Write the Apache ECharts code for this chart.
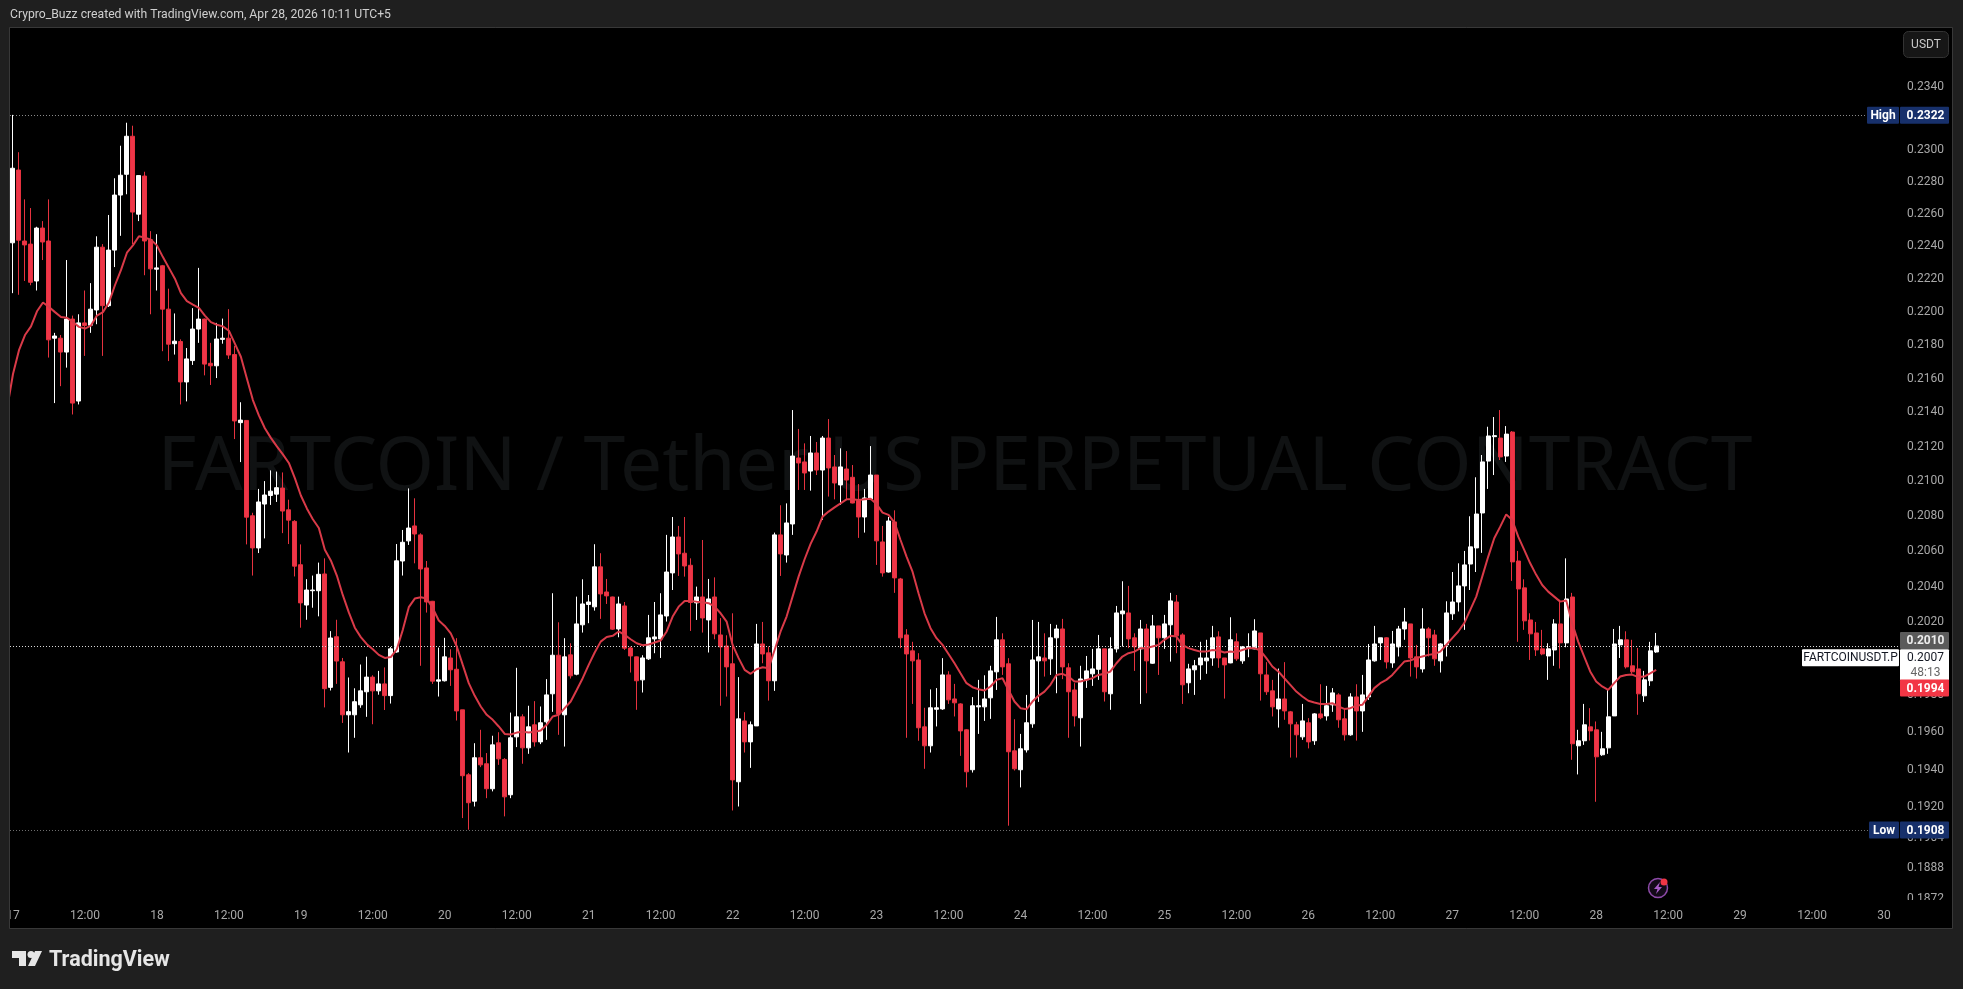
<!DOCTYPE html>
<html>
<head>
<meta charset="utf-8">
<style>
    html, body { margin: 0; height: 100%; background: #1f1f1f; overflow: hidden; }
    #chart { width: 1963px; height: 989px; }
</style>
<script src="https://cdn.jsdelivr.net/npm/echarts@6/dist/echarts.min.js"></script>
</head>
<body>
<div id="chart"></div>
<script>
const opens = [0.22421,0.22874,0.22432,0.22413,0.22187,0.22512,0.22432,0.21841,0.21841,0.21758,0.21956,0.21467,0.21933,0.21919,0.22011,0.22394,0.22037,0.22376,0.22717,0.22847,0.23087,0.22598,0.22836,0.2244,0.22259,0.2228,0.22016,0.21808,0.21821,0.2158,0.21707,0.21896,
    0.21956,0.21691,0.21676,0.21834,0.21841,0.21743,0.2134,0.21353,0.20801,0.20618,0.20868,0.20917,0.20925,0.2096,0.20835,0.20769,0.20523,0.20297,0.20377,0.20377,0.20471,0.19843,0.20121,0.19983,0.19694,0.19694,0.19748,0.19819,0.19899,0.19824,0.19862,0.19798,
    0.20037,0.20544,0.20658,0.20743,0.20692,0.20505,0.20318,0.19877,0.19879,0.20004,0.19942,0.19721,0.19372,0.19232,0.19463,0.19431,0.19298,0.19543,0.19454,0.19266,0.19575,0.19683,0.19516,0.1964,0.19548,0.19656,0.19808,0.20019,0.19694,0.20021,0.19915,0.20187,
    0.203,0.20287,0.20511,0.2037,0.20342,0.20164,0.20292,0.20059,0.2001,0.19884,0.19999,0.20109,0.20109,0.20236,0.20477,0.2068,0.20588,0.2052,0.20309,0.20342,0.20214,0.20342,0.20131,0.2007,0.19972,0.19335,0.19661,0.19548,0.19634,0.20081,0.20032,0.19879,
    0.20692,0.20578,0.20754,0.21134,0.21111,0.21058,0.21163,0.21064,0.2125,0.21082,0.20978,0.2107,0.21022,0.20891,0.20794,0.20897,0.21035,0.20652,0.20482,0.20766,0.20443,0.20131,0.20043,0.19993,0.19629,0.19527,0.19724,0.19726,0.19911,0.1978,0.19753,0.19613,
    0.19399,0.19737,0.19737,0.19786,0.19928,0.20104,0.19972,0.195,0.19399,0.19505,0.19645,0.19988,0.20004,0.19999,0.20115,0.20164,0.1995,0.19829,0.19678,0.19884,0.19917,0.19942,0.20054,0.19808,0.20054,0.20248,0.20253,0.20115,0.20054,0.20164,0.19975,0.20181,
    0.20115,0.20187,0.20314,0.20131,0.19868,0.19939,0.19966,0.19988,0.20004,0.2012,0.20004,0.19977,0.20093,0.19988,0.20061,0.20054,0.20142,0.19911,0.19824,0.19726,0.1978,0.1971,0.1964,0.19575,0.19651,0.19554,0.19699,0.19688,0.19748,0.19802,0.19672,0.19586,
    0.19791,0.19715,0.19791,0.19988,0.20087,0.20115,0.19977,0.20065,0.20164,0.20192,0.2001,0.19944,0.20164,0.20131,0.19988,0.20076,0.20248,0.20314,0.20404,0.20527,0.20618,0.20817,0.21116,0.21258,0.2125,0.21145,0.21285,0.20544,0.20393,0.20214,0.20142,0.20054,
    0.20015,0.20048,0.20192,0.20087,0.20342,0.19527,0.19554,0.19629,0.19613,0.19479,0.19516,0.19688,0.20076,0.20104,0.19961,0.19944,0.19797,0.19879,0.20037];
const closes = [0.22885,0.22437,0.22408,0.22179,0.22512,0.22426,0.21831,0.21854,0.21758,0.21956,0.21455,0.21933,0.21917,0.22016,0.22394,0.22037,0.22376,0.22717,0.22841,0.23087,0.22611,0.22839,0.22432,0.22261,0.22267,0.22016,0.21805,0.21823,0.2158,0.21717,0.21896,0.21956,
    0.21686,0.21676,0.21836,0.21841,0.2174,0.2135,0.21355,0.20793,0.20618,0.2088,0.2092,0.20942,0.20962,0.20828,0.20776,0.20515,0.20309,0.20381,0.20381,0.20469,0.19836,0.20114,0.19987,0.19694,0.19711,0.19765,0.19824,0.19899,0.19824,0.19862,0.19798,0.20054,
    0.20545,0.2065,0.20731,0.20697,0.20499,0.20314,0.19877,0.19884,0.2001,0.19939,0.19715,0.19367,0.19224,0.19463,0.19425,0.19298,0.19532,0.19457,0.19255,0.1957,0.19683,0.19516,0.19629,0.19548,0.19651,0.19802,0.20019,0.19699,0.2001,0.19906,0.20192,0.20303,
    0.20314,0.20511,0.20359,0.20348,0.20163,0.20303,0.20058,0.20015,0.19879,0.20004,0.20115,0.2012,0.20242,0.20482,0.2068,0.20584,0.20516,0.20311,0.20342,0.20225,0.20331,0.20137,0.20065,0.19955,0.19345,0.19672,0.19548,0.1964,0.20081,0.20026,0.19879,0.20692,
    0.20584,0.2076,0.21145,0.21105,0.21047,0.21163,0.21064,0.2125,0.21076,0.20989,0.21082,0.21006,0.20874,0.20794,0.20903,0.21035,0.20658,0.20477,0.20771,0.20449,0.20115,0.20026,0.19988,0.19624,0.19527,0.19732,0.19732,0.19911,0.19775,0.19759,0.19607,0.19388,
    0.19743,0.19743,0.1978,0.19933,0.20104,0.19955,0.19495,0.19404,0.19511,0.19651,0.19993,0.2001,0.19988,0.20115,0.20164,0.19955,0.19819,0.19688,0.19889,0.19933,0.19944,0.20054,0.19819,0.20054,0.20253,0.20264,0.20109,0.20065,0.20164,0.19988,0.20181,0.20115,
    0.20192,0.2032,0.20126,0.19857,0.19944,0.19961,0.20004,0.20004,0.20115,0.20004,0.19966,0.20104,0.19999,0.20065,0.20067,0.20153,0.19917,0.19819,0.19737,0.1978,0.19715,0.19645,0.19586,0.19661,0.19548,0.19699,0.19678,0.19743,0.19813,0.19667,0.19586,0.19791,
    0.19715,0.19802,0.19993,0.20081,0.20115,0.19982,0.20081,0.20164,0.20203,0.20004,0.19955,0.20164,0.20115,0.19999,0.20081,0.20253,0.20314,0.20404,0.20522,0.20624,0.20811,0.21111,0.21262,0.21264,0.2114,0.21273,0.20539,0.20387,0.20209,0.20137,0.20048,0.20026,
    0.20054,0.20192,0.20087,0.20331,0.19538,0.19554,0.1964,0.19607,0.19468,0.19511,0.19683,0.20081,0.20104,0.19955,0.19928,0.19808,0.19884,0.20043,0.2007];
const lows = [0.22113,0.22103,0.22187,0.22161,0.22129,0.22315,0.21725,0.21455,0.21555,0.21665,0.21388,0.21447,0.21735,0.21873,0.21925,0.21735,0.22029,0.22272,0.22464,0.22722,0.22413,0.22555,0.22222,0.21985,0.22129,0.21763,0.21704,0.21743,0.21447,0.21465,0.21681,0.21813,
    0.21619,0.21562,0.21603,0.21808,0.21717,0.21244,0.2111,0.20638,0.20462,0.20589,0.20672,0.20863,0.2088,0.20702,0.2064,0.20457,0.20171,0.20215,0.20282,0.20234,0.19734,0.19826,0.19862,0.1965,0.19491,0.1957,0.19732,0.19683,0.19643,0.19803,0.1972,0.19755,
    0.20033,0.20462,0.20635,0.20531,0.19961,0.20255,0.19862,0.19793,0.19875,0.19851,0.19663,0.19143,0.19082,0.19204,0.19413,0.19248,0.19284,0.19425,0.19152,0.19248,0.1952,0.19431,0.19484,0.19523,0.19536,0.19559,0.1971,0.19586,0.19523,0.19891,0.19909,0.20144,
    0.20196,0.20266,0.2022,0.20303,0.20159,0.20118,0.20048,0.19924,0.19721,0.19815,0.19993,0.2003,0.20004,0.20205,0.20381,0.2046,0.20456,0.20153,0.20214,0.20144,0.20034,0.20107,0.19743,0.19793,0.19183,0.19204,0.19491,0.19409,0.19634,0.19975,0.19771,0.19824,
    0.2046,0.20535,0.20692,0.20949,0.20949,0.20945,0.21035,0.20777,0.20911,0.20895,0.20863,0.20891,0.20872,0.20675,0.20705,0.20891,0.20522,0.20456,0.20479,0.20365,0.20058,0.1957,0.19753,0.19554,0.19404,0.19491,0.19631,0.19721,0.19753,0.19685,0.19473,0.19305,
    0.19384,0.19591,0.19661,0.19672,0.19829,0.19911,0.19103,0.19395,0.19305,0.19491,0.19624,0.19764,0.19902,0.19911,0.19811,0.19888,0.1957,0.19631,0.19523,0.1984,0.19851,0.19884,0.19766,0.19721,0.20034,0.20067,0.20058,0.19933,0.19753,0.19811,0.19972,0.19911,
    0.20054,0.19984,0.2003,0.19753,0.19811,0.19802,0.19884,0.19917,0.19961,0.1995,0.19782,0.19975,0.19988,0.19972,0.20008,0.20052,0.19771,0.19802,0.19685,0.19625,0.19667,0.19464,0.19464,0.19559,0.19513,0.19532,0.1967,0.19663,0.1971,0.19624,0.19555,0.19581,
    0.19555,0.19602,0.19775,0.19984,0.19993,0.19946,0.1995,0.20012,0.20104,0.19902,0.19891,0.19924,0.20012,0.19961,0.19924,0.20012,0.20214,0.20261,0.20159,0.20381,0.20482,0.2059,0.20955,0.21035,0.21122,0.21111,0.20432,0.20093,0.20159,0.19993,0.20015,0.20019,
    0.19884,0.19961,0.19946,0.20063,0.19452,0.19374,0.19532,0.19555,0.19229,0.19473,0.19484,0.19688,0.20004,0.19946,0.19917,0.19694,0.19764,0.19851,0.20032];
const highs = [0.23223,0.22986,0.2269,0.22636,0.2252,0.22555,0.2269,0.21873,0.2186,0.22315,0.21977,0.21985,0.22129,0.22174,0.22461,0.22413,0.22593,0.22822,0.23027,0.23173,0.23154,0.22839,0.22863,0.22493,0.22474,0.22285,0.2214,0.2199,0.21834,0.21782,0.22022,0.22267,
    0.21959,0.21813,0.21933,0.21959,0.22016,0.21795,0.2146,0.21353,0.20818,0.20955,0.21,0.21062,0.21055,0.2105,0.20893,0.20776,0.20638,0.20442,0.20462,0.20535,0.20559,0.20152,0.20215,0.20004,0.19897,0.19838,0.19968,0.20011,0.19909,0.19933,0.19952,0.20064,
    0.2064,0.2072,0.20958,0.20901,0.20701,0.20544,0.2032,0.20061,0.20115,0.20052,0.20113,0.19721,0.19381,0.19541,0.19613,0.19488,0.19581,0.196,0.19461,0.19706,0.1995,0.19697,0.19743,0.19768,0.19739,0.19888,0.20363,0.20201,0.20113,0.20085,0.20344,0.20441,
    0.20353,0.20639,0.20588,0.20443,0.20344,0.20344,0.20314,0.20067,0.20012,0.20019,0.20242,0.20314,0.20363,0.20692,0.20794,0.20743,0.20794,0.20559,0.204,0.20663,0.20443,0.20452,0.20224,0.20129,0.20251,0.19899,0.19708,0.19658,0.20192,0.20203,0.20067,0.20705,
    0.20861,0.20872,0.21414,0.21303,0.21219,0.21262,0.21227,0.21262,0.21361,0.21151,0.2119,0.21174,0.21093,0.20983,0.20955,0.21203,0.21035,0.20743,0.20794,0.20832,0.20449,0.20163,0.20093,0.2003,0.19732,0.19832,0.19839,0.20003,0.19931,0.19862,0.19757,0.19616,
    0.1979,0.19884,0.19909,0.19961,0.20231,0.2014,0.20003,0.1967,0.19591,0.19802,0.20214,0.20203,0.2014,0.20192,0.20187,0.2022,0.19975,0.19866,0.19961,0.20015,0.20054,0.20131,0.20054,0.20118,0.20292,0.2043,0.20404,0.2014,0.20214,0.20192,0.20242,0.20181,
    0.20242,0.20365,0.20353,0.2014,0.19972,0.19993,0.20093,0.20104,0.20181,0.20151,0.20004,0.20229,0.2014,0.2007,0.2014,0.20218,0.20142,0.19981,0.19884,0.19946,0.19981,0.19715,0.19656,0.19753,0.19676,0.19703,0.1986,0.19851,0.19839,0.19811,0.1973,0.19811,
    0.1986,0.19911,0.20081,0.20181,0.20115,0.20118,0.20153,0.20181,0.20281,0.20192,0.20076,0.20279,0.20174,0.20159,0.20085,0.20318,0.20482,0.20531,0.20601,0.20798,0.21022,0.21151,0.21316,0.21373,0.21414,0.2132,0.21291,0.20601,0.20441,0.20251,0.20203,0.20159,
    0.20085,0.20218,0.20326,0.20559,0.20365,0.19613,0.19753,0.1973,0.19658,0.19602,0.19829,0.20164,0.20181,0.20151,0.20104,0.20059,0.19933,0.20093,0.20142];
// first value belongs to the candle just left of the pane, only its line end shows
const emaValues = [0.2142,0.21627,0.21769,0.2186,0.21912,0.22003,0.22056,0.22029,0.21998,0.21969,0.21964,0.21938,0.21909,0.21899,0.21917,0.21977,0.21998,0.22056,0.22161,0.22253,0.2236,0.22405,0.22461,0.22453,0.2244,0.22405,0.22333,0.22267,0.22201,0.22113,0.22064,0.22043,0.22024,
    0.21977,0.21938,0.21922,0.21912,0.21886,0.21808,0.2173,0.21601,0.21473,0.21383,0.21307,0.21251,0.21201,0.21155,0.21105,0.21017,0.20917,0.20843,0.20781,0.20731,0.20608,0.20547,0.20462,0.20352,0.20256,0.20171,0.20119,0.2008,0.20052,0.20021,0.20004,0.20009,
    0.20052,0.20159,0.20285,0.20333,0.2034,0.20333,0.20279,0.20211,0.20181,0.2014,0.20067,0.19966,0.19866,0.19797,0.19739,0.19694,0.19667,0.19631,0.19591,0.19588,0.19598,0.19602,0.19598,0.19602,0.19609,0.1964,0.19685,0.19694,0.1973,0.19766,0.19829,0.19893,
    0.19966,0.20034,0.20094,0.2012,0.20126,0.2015,0.20131,0.20107,0.20085,0.20074,0.20078,0.20089,0.201,0.2015,0.20233,0.20288,0.2032,0.2032,0.20316,0.20313,0.20307,0.20288,0.20251,0.20205,0.20076,0.20003,0.19939,0.19917,0.19942,0.19953,0.19948,0.20048,
    0.2015,0.20233,0.20344,0.20456,0.20554,0.20641,0.20711,0.20796,0.20825,0.20849,0.20872,0.20895,0.20895,0.20891,0.20895,0.20899,0.20868,0.20819,0.20806,0.20762,0.20663,0.20569,0.20484,0.20363,0.20251,0.20168,0.20113,0.20076,0.20026,0.19975,0.1992,0.19866,
    0.19844,0.19833,0.19826,0.19848,0.19884,0.19893,0.19829,0.19766,0.1973,0.19724,0.19766,0.19797,0.1982,0.19857,0.19911,0.19917,0.19902,0.19875,0.19875,0.19884,0.19893,0.19911,0.19917,0.1993,0.19975,0.20012,0.2003,0.20039,0.20058,0.20058,0.20067,0.20076,
    0.20104,0.20126,0.20122,0.20076,0.20058,0.20048,0.20039,0.20039,0.20048,0.20045,0.20034,0.20039,0.20036,0.20048,0.20058,0.20058,0.20045,0.20003,0.19957,0.1993,0.19893,0.19857,0.1982,0.19793,0.1977,0.19761,0.19753,0.19753,0.19757,0.19739,0.19726,0.1973,
    0.19743,0.19748,0.19793,0.19839,0.19866,0.19884,0.19911,0.19948,0.19984,0.1999,0.20003,0.20012,0.20021,0.20026,0.20039,0.20076,0.20113,0.2015,0.20196,0.2027,0.20344,0.20456,0.20569,0.20673,0.20739,0.20809,0.20777,0.20682,0.20607,0.20531,0.20466,0.20409,
    0.20372,0.20344,0.20316,0.20322,0.20196,0.20094,0.20012,0.1993,0.19875,0.19848,0.19829,0.19866,0.19902,0.19911,0.19913,0.19899,0.19902,0.1992,0.19939];
const priceTicks = [0.2340,0.2320,0.2300,0.2280,0.2260,0.2240,0.2220,0.2200,0.2180,0.2160,0.2140,0.2120,0.2100,0.2080,0.2060,0.2040,0.2020,0.2000,0.1980,0.1960,0.1940,0.1920,0.1904,0.1888,0.1872];
const dayLabels = ['17','18','19','20','21','22','23','24','25','26','27','28','29','30'];
const tagPrices = [0.2322,0.2007,0.2010,0.1994,0.1908];
const tagNames = ['High','FARTCOINUSDT.P','','','Low'];
const priceMin = 0.18717;
const priceMax = 0.23784;
const slotCount = 325;

// slot 0 sits under the left border, the 17th starts at slot 1
const timeLabels = [''];
for (let i = 0; i < slotCount - 1; i++) {
    if (i % 24 === 0) timeLabels.push(dayLabels[i / 24] || '');
    else if (i % 24 === 12) timeLabels.push('12:00');
    else timeLabels.push('');
}
const candles = ['-'].concat(opens.map((o, i) => [o, closes[i], lows[i], highs[i]]));

const fontName = 'Roboto';
const tagLook = [
    { bg: '#17306b', fg: '#fff', dy: 0, lineEnd: 1866, line: '#8a8a8a', nameLeft: 1867 },
    { bg: '#fff', fg: '#131722', dy: 11.7, lineEnd: 1899, line: '#d8d8d8', nameLeft: 1802, clock: '48:13', h: 31 },
    { bg: '#5b5b5b', fg: '#ececec', dy: 0 },
    { bg: '#f23645', fg: '#fff', dy: 18.5 },
    { bg: '#17306b', fg: '#fff', dy: 0, lineEnd: 1868, line: '#6e6e6e', nameLeft: 1869 }
];

function renderTag(params, api) {
    const i = params.dataIndex;
    const look = tagLook[i];
    const y = api.coord([0, api.value(1)])[1];
    const top = y + look.dy - 8.5;
    const boxH = look.h || 17;
    const kids = [];
    if (look.lineEnd) {
        kids.push({
            type: 'line',
            shape: { x1: 10, y1: Math.round(y) + 0.5, x2: look.lineEnd, y2: Math.round(y) + 0.5 },
            style: { stroke: look.line, lineWidth: 1, lineDash: [1, 2] }
        });
    }
    kids.push({ type: 'rect', shape: { x: 1900, y: top, width: 49, height: boxH, r: 1 }, style: { fill: look.bg } });
    kids.push({
        type: 'text',
        style: {
            text: api.value(1).toFixed(4), x: 1925.5, y: top + 9, align: 'center', verticalAlign: 'middle',
            fill: look.fg, font: (i === 1 ? '' : 'bold ') + '12px ' + fontName
        }
    });
    if (look.clock) {
        kids.push({
            type: 'text',
            style: {
                text: look.clock, x: 1925.5, y: top + 23.5, align: 'center', verticalAlign: 'middle',
                fill: '#666', font: '12px ' + fontName
            }
        });
    }
    if (look.nameLeft) {
        kids.push({ type: 'rect', shape: { x: look.nameLeft, y: top, width: 1899 - look.nameLeft, height: 17, r: 1 }, style: { fill: look.bg } });
        kids.push({
            type: 'text',
            style: {
                text: tagNames[i], x: (look.nameLeft + 1899) / 2, y: top + 9, align: 'center', verticalAlign: 'middle',
                fill: look.fg, font: (i === 1 ? '' : 'bold ') + '12px ' + fontName
            }
        });
    }
    return { type: 'group', children: kids };
}

const chart = echarts.init(document.getElementById('chart'));
chart.setOption({
    animation: false,
    backgroundColor: '#1f1f1f',
    grid: { left: 4, top: 28, width: 1949, height: 872, show: true, backgroundColor: '#000', borderWidth: 0 },
    xAxis: {
        type: 'category',
        data: timeLabels,
        z: 4,
        boundaryGap: true,
        axisLine: { show: false },
        axisTick: { show: false },
        splitLine: { show: false },
        axisLabel: {
            interval: index => (index - 1) % 12 === 0,
            margin: 9.5, color: '#a8a8a8', fontSize: 12, fontFamily: fontName, hideOverlap: false
        }
    },
    yAxis: {
        type: 'log',
        position: 'right',
        min: priceMin,
        max: priceMax,
        axisLine: { show: false },
        axisTick: { show: false },
        splitLine: { show: false },
        minorSplitLine: { show: false },
        axisLabel: {
            inside: true, margin: 9, color: '#a8a8a8', fontSize: 12, fontFamily: fontName,
            padding: [4, 0, 0, 0],
            customValues: priceTicks,
            showMinLabel: true, showMaxLabel: true,
            formatter: v => Number(v).toFixed(4)
        }
    },
    series: [
        {
            type: 'candlestick',
            data: candles,
            barWidth: 4.5,
            itemStyle: { color: '#ffffff', color0: '#ee3548', borderColor: '#ffffff', borderColor0: '#e6323f', borderWidth: 1 }
        },
        {
            type: 'line',
            data: emaValues,
            showSymbol: false,
            z: 3,
            lineStyle: { color: '#d93a48', width: 2 }
        },
        {
            type: 'custom',
            z: 3,
            data: tagPrices.map((p, i) => [i, p]),
            renderItem: renderTag
        }
    ],
    graphic: { elements: [
        { type: 'text', z: 1, style: { text: 'FARTCOIN / Tether US PERPETUAL CONTRACT', x: 955, y: 469, align: 'center', verticalAlign: 'middle', fill: '#101213', font: '75px "Noto Sans"' } },
        { type: 'rect', z: 3, shape: { x: 10, y: 900, width: 1943, height: 28 }, style: { fill: '#000' } },
        { type: 'rect', z: 5, shape: { x: 0, y: 0, width: 10, height: 989 }, style: { fill: '#1f1f1f' } },
        { type: 'rect', z: 6, shape: { x: 9.5, y: 27.5, width: 1943, height: 901 }, style: { fill: 'none', stroke: '#383838', lineWidth: 1 } },
        { type: 'text', z: 6, style: { text: 'Crypro_Buzz created with TradingView.com, Apr 28, 2026 10:11 UTC+5', x: 10, y: 15, verticalAlign: 'middle', fill: '#cfcfcf', font: '12.2px ' + fontName } },
        { type: 'rect', z: 6, shape: { x: 1903.5, y: 31.5, width: 45, height: 26, r: 5 }, style: { fill: '#161616', stroke: '#333', lineWidth: 1 } },
        { type: 'text', z: 7, style: { text: 'USDT', x: 1926, y: 45, align: 'center', verticalAlign: 'middle', fill: '#c8c8c8', font: '12px ' + fontName } },
        // TradingView logo
        { type: 'polygon', z: 6, shape: { points: [[12, 951], [26, 951], [26, 966], [19, 966], [19, 958], [12, 958]] }, style: { fill: '#e6e6e6' } },
        { type: 'circle', z: 6, shape: { cx: 31, cy: 954.5, r: 3.5 }, style: { fill: '#e6e6e6' } },
        { type: 'polygon', z: 6, shape: { points: [[35, 951], [42, 951], [35, 966], [28, 966]] }, style: { fill: '#e6e6e6' } },
        { type: 'text', z: 6, style: { text: 'TradingView', x: 49, y: 960.5, verticalAlign: 'middle', fill: '#e6e6e6', font: 'bold 21.5px ' + fontName } },
        // bolt marker
        { type: 'circle', z: 6, shape: { cx: 1658, cy: 888, r: 9.5 }, style: { fill: '#130a18', stroke: '#8d4aa8', lineWidth: 1.5 } },
        { type: 'polygon', z: 7, shape: { points: [[1660, 882], [1654, 889], [1657.5, 889], [1656, 894], [1662, 887], [1658.5, 887]] }, style: { fill: '#a85cc8' } },
        { type: 'circle', z: 7, shape: { cx: 1664, cy: 882, r: 3.5 }, style: { fill: '#f23645' } }
    ] }
});
</script>
</body>
</html>
